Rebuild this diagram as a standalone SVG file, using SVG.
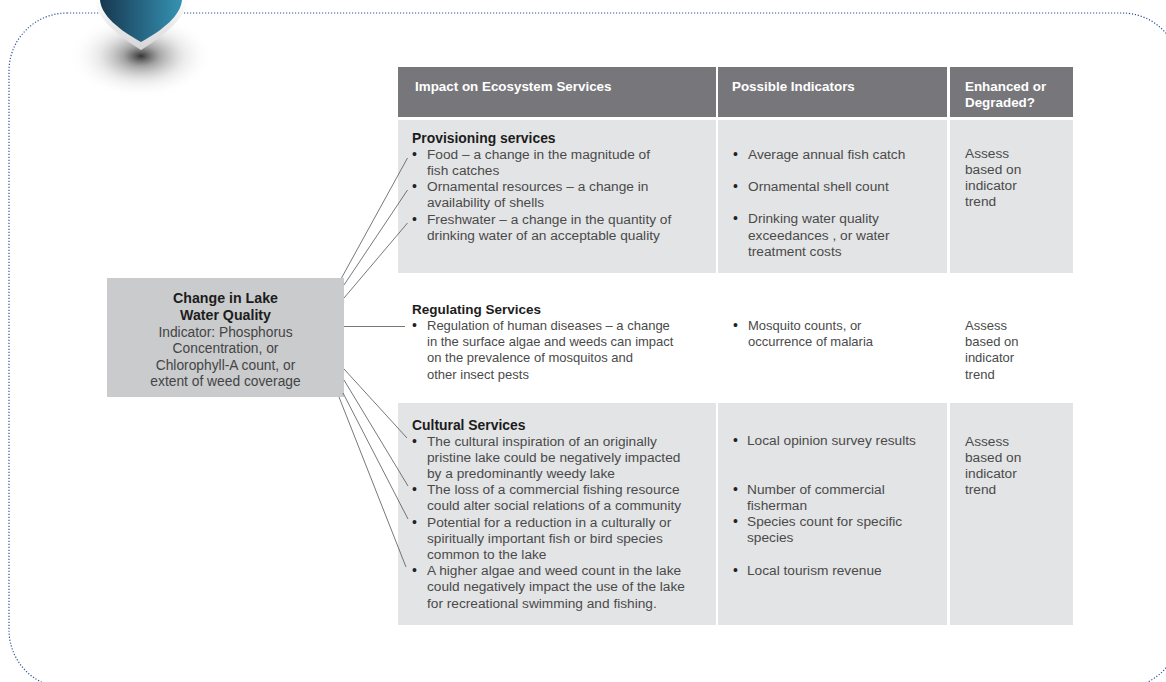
<svg xmlns="http://www.w3.org/2000/svg" width="1166" height="682" viewBox="0 0 1166 682">
<defs>
<linearGradient id="blueG" x1="0" y1="0" x2="1" y2="0">
<stop offset="0" stop-color="#173750"/>
<stop offset="1" stop-color="#3593b3"/>
</linearGradient>
<linearGradient id="rimG" x1="0" y1="0" x2="0" y2="1">
<stop offset="0" stop-color="#ffffff"/>
<stop offset="1" stop-color="#d4d4d6"/>
</linearGradient>
<radialGradient id="shadowG" cx="0.5" cy="0.5" r="0.5">
<stop offset="0" stop-color="#2a2a2a" stop-opacity="0.95"/>
<stop offset="0.25" stop-color="#6a6a6a" stop-opacity="0.6"/>
<stop offset="0.6" stop-color="#b0b0b0" stop-opacity="0.25"/>
<stop offset="1" stop-color="#ffffff" stop-opacity="0"/>
</radialGradient>
<style>
.frame{fill:none;stroke:#2f5597;stroke-width:1.2;stroke-dasharray:1.2 1.8}
.hdr{fill:#77777b}
.cell{fill:#e3e4e5}
.node{fill:#c9cbcc}
.ht{font-family:"Liberation Sans",Arial,sans-serif;font-weight:bold;font-size:13.4px;fill:#ffffff}
.bt{font-family:"Liberation Sans",Arial,sans-serif;font-weight:bold;font-size:13.9px;fill:#1c1c1c}
.bt2{font-family:"Liberation Sans",Arial,sans-serif;font-weight:bold;font-size:13.5px;fill:#1c1c1c}
.tx{font-family:"Liberation Sans",Arial,sans-serif;font-size:13.7px;fill:#4a4a4a}
.tx2{font-family:"Liberation Sans",Arial,sans-serif;font-size:13px;fill:#4a4a4a}
.bu{font-family:"Liberation Sans",Arial,sans-serif;font-size:14px;fill:#222222}
.nb{font-family:"Liberation Sans",Arial,sans-serif;font-weight:bold;font-size:14.2px;fill:#1c1c1c;text-anchor:middle}
.nt{font-family:"Liberation Sans",Arial,sans-serif;font-size:13.8px;fill:#444444;text-anchor:middle}
.conn{stroke:#555555;stroke-width:0.8;fill:none}
</style>
</defs>
<rect width="1166" height="682" fill="#ffffff"/>
<rect class="frame" x="9" y="13" width="1171" height="675" rx="58" ry="58"/>
<g id="badge">
<ellipse cx="141" cy="56" rx="72" ry="42" fill="url(#shadowG)"/>
<path d="M95,0 L187,0 C186,14 173,30 141,50 C109,30 96,14 95,0 Z" fill="url(#rimG)"/>
<path d="M100,0 L182,0 C181,12 170,26 141,42 C112,26 101,12 100,0 Z" fill="url(#blueG)"/>
</g>
<g id="table-header">
<rect class="hdr" x="398" y="67" width="318" height="50"/>
<rect class="hdr" x="718" y="67" width="229" height="50"/>
<rect class="hdr" x="950" y="67" width="123" height="50"/>
<text class="ht" x="415" y="91">Impact on Ecosystem Services</text>
<text class="ht" x="732" y="91">Possible Indicators</text>
<text class="ht" x="965" y="91">Enhanced or</text>
<text class="ht" x="965" y="107">Degraded?</text>
</g>
<g id="provisioning">
<rect class="cell" x="398" y="120" width="318" height="153"/>
<rect class="cell" x="718" y="120" width="229" height="153"/>
<rect class="cell" x="950" y="120" width="123" height="153"/>
<text class="bt" x="412" y="143">Provisioning services</text>
<text class="bu" x="412" y="159">•</text>
<text class="tx" x="427" y="159">Food – a change in the magnitude of</text>
<text class="tx" x="427" y="175">fish catches</text>
<text class="bu" x="412" y="191">•</text>
<text class="tx" x="427" y="191">Ornamental resources – a change in</text>
<text class="tx" x="427" y="207">availability of shells</text>
<text class="bu" x="412" y="224">•</text>
<text class="tx" x="427" y="224">Freshwater – a change in the quantity of</text>
<text class="tx" x="427" y="240">drinking water of an acceptable quality</text>
<text class="bu" x="733" y="159">•</text>
<text class="tx" x="748" y="159">Average annual fish catch</text>
<text class="bu" x="733" y="191">•</text>
<text class="tx" x="748" y="191">Ornamental shell count</text>
<text class="bu" x="733" y="223">•</text>
<text class="tx" x="748" y="223">Drinking water quality</text>
<text class="tx" x="748" y="240">exceedances , or water</text>
<text class="tx" x="748" y="256">treatment costs</text>
<text class="tx" x="965" y="158">Assess</text>
<text class="tx" x="965" y="174">based on</text>
<text class="tx" x="965" y="190">indicator</text>
<text class="tx" x="965" y="206">trend</text>
</g>
<g id="regulating">
<text class="bt2" x="412" y="314">Regulating Services</text>
<text class="bu" x="412" y="330">•</text>
<text class="tx2" x="427" y="330">Regulation of human diseases – a change</text>
<text class="tx2" x="427" y="346">in the surface algae and weeds can impact</text>
<text class="tx2" x="427" y="362">on the prevalence of mosquitos and</text>
<text class="tx2" x="427" y="379">other insect pests</text>
<text class="bu" x="733" y="330">•</text>
<text class="tx2" x="748" y="330">Mosquito counts, or</text>
<text class="tx2" x="748" y="346">occurrence of malaria</text>
<text class="tx2" x="965" y="330">Assess</text>
<text class="tx2" x="965" y="346">based on</text>
<text class="tx2" x="965" y="362">indicator</text>
<text class="tx2" x="965" y="379">trend</text>
</g>
<g id="cultural">
<rect class="cell" x="398" y="403" width="318" height="222"/>
<rect class="cell" x="718" y="403" width="229" height="222"/>
<rect class="cell" x="950" y="403" width="123" height="222"/>
<text class="bt" x="412" y="430">Cultural Services</text>
<text class="bu" x="412" y="446">•</text>
<text class="tx" x="427" y="446">The cultural inspiration of an originally</text>
<text class="tx" x="427" y="462">pristine lake could be negatively impacted</text>
<text class="tx" x="427" y="478">by a predominantly weedy lake</text>
<text class="bu" x="412" y="494">•</text>
<text class="tx" x="427" y="494">The loss of a commercial fishing resource</text>
<text class="tx" x="427" y="510">could alter social relations of a community</text>
<text class="bu" x="412" y="527">•</text>
<text class="tx" x="427" y="527">Potential for a reduction in a culturally or</text>
<text class="tx" x="427" y="543">spiritually important fish or bird species</text>
<text class="tx" x="427" y="559">common to the lake</text>
<text class="bu" x="412" y="575">•</text>
<text class="tx" x="427" y="575">A higher algae and weed count in the lake</text>
<text class="tx" x="427" y="591">could negatively impact the use of the lake</text>
<text class="tx" x="427" y="608">for recreational swimming and fishing.</text>
<text class="bu" x="733" y="445">•</text>
<text class="tx" x="747" y="445">Local opinion survey results</text>
<text class="bu" x="733" y="494">•</text>
<text class="tx" x="747" y="494">Number of commercial</text>
<text class="tx" x="747" y="510">fisherman</text>
<text class="bu" x="733" y="526">•</text>
<text class="tx" x="747" y="526">Species count for specific</text>
<text class="tx" x="747" y="542">species</text>
<text class="bu" x="733" y="575">•</text>
<text class="tx" x="747" y="575">Local tourism revenue</text>
<text class="tx" x="965" y="446">Assess</text>
<text class="tx" x="965" y="462">based on</text>
<text class="tx" x="965" y="478">indicator</text>
<text class="tx" x="965" y="494">trend</text>
</g>
<g id="lake-node">
<rect class="node" x="107" y="278" width="237" height="119"/>
<text class="nb" x="225.5" y="303">Change in Lake</text>
<text class="nb" x="225.5" y="320">Water Quality</text>
<text class="nt" x="225.5" y="337">Indicator: Phosphorus</text>
<text class="nt" x="225.5" y="353">Concentration, or</text>
<text class="nt" x="225.5" y="370">Chlorophyll-A count, or</text>
<text class="nt" x="225.5" y="386">extent of weed coverage</text>
</g>
<g id="connectors">
<line class="conn" x1="341.5" y1="278" x2="407.5" y2="158"/>
<line class="conn" x1="344" y1="285" x2="407.5" y2="190"/>
<line class="conn" x1="344" y1="298" x2="407.5" y2="223"/>
<line class="conn" x1="344" y1="326.5" x2="405" y2="326.5"/>
<line class="conn" x1="344" y1="369" x2="407" y2="438"/>
<line class="conn" x1="344" y1="380" x2="408" y2="486"/>
<line class="conn" x1="343" y1="393" x2="408" y2="519"/>
<line class="conn" x1="339" y1="397" x2="406" y2="567"/>
</g>
</svg>
